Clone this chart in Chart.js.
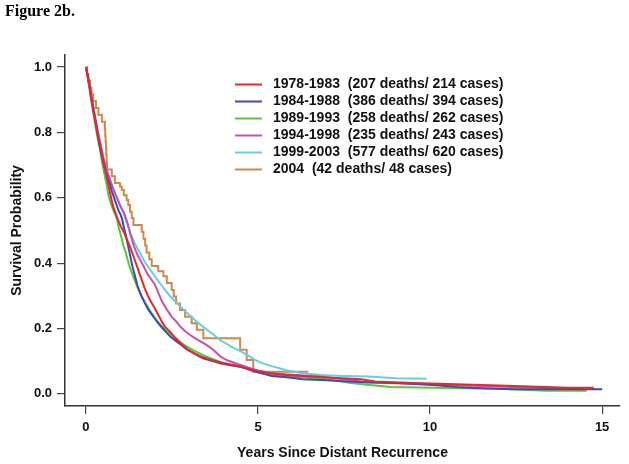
<!DOCTYPE html>
<html>
<head>
<meta charset="utf-8">
<script src="https://cdn.jsdelivr.net/npm/chart.js@4.4.0/dist/chart.umd.min.js"></script>
<style>
  html, body { margin: 0; padding: 0; background: #fff; }
  #wrap { width: 629px; height: 464px; }
</style>
</head>
<body>
<div id="wrap"><canvas id="chart" width="629" height="464"></canvas></div>
<script>
// Kaplan-Meier curves, [years, survival] pairs
const periods = ['1978-1983', '1984-1988', '1989-1993', '1994-1998', '1999-2003', '2004'];
const deaths = [207, 386, 258, 235, 577, 42];
const cases = [214, 394, 262, 243, 620, 48];
const colors = ['#e8262b', '#3a4db5', '#5cc43c', '#c850b0', '#62cfe2', '#cf8848'];

const km7883 = [[0,1],[0.05,0.97],[0.1,0.94],[0.15,0.905],[0.2,0.875],[0.25,0.845],[0.3,0.815],[0.35,0.79],[0.4,0.76],[0.45,0.735],[0.5,0.71],[0.55,0.69],[0.6,0.665],[0.65,0.64],[0.7,0.615],[0.75,0.59],[0.8,0.57],[0.9,0.54],[1.0,0.515],[1.1,0.495],[1.2,0.47],[1.3,0.445],[1.4,0.415],[1.5,0.385],[1.6,0.355],[1.7,0.325],[1.8,0.3],[1.9,0.28],[2.0,0.262],[2.1,0.242],[2.2,0.222],[2.3,0.205],[2.45,0.19],[2.6,0.17],[2.8,0.15],[3.0,0.133],[3.2,0.122],[3.4,0.112],[3.7,0.102],[4.0,0.094],[4.4,0.086],[4.8,0.075],[5.0,0.07],[5.35,0.063],[5.8,0.058],[6.3,0.055],[7.0,0.05],[8.0,0.045],[8.4,0.038],[9.5,0.033],[10.5,0.03],[12.0,0.026],[14.0,0.019],[14.75,0.019]];
const km8488 = [[0,1],[0.05,0.975],[0.1,0.945],[0.15,0.91],[0.2,0.88],[0.25,0.85],[0.3,0.82],[0.35,0.79],[0.4,0.76],[0.45,0.735],[0.5,0.71],[0.55,0.69],[0.6,0.67],[0.65,0.655],[0.7,0.64],[0.75,0.62],[0.8,0.605],[0.85,0.59],[0.9,0.575],[0.95,0.56],[1.0,0.55],[1.05,0.535],[1.1,0.51],[1.15,0.49],[1.2,0.465],[1.25,0.44],[1.3,0.415],[1.35,0.39],[1.4,0.37],[1.45,0.35],[1.5,0.33],[1.6,0.302],[1.7,0.28],[1.8,0.26],[1.9,0.245],[2.0,0.23],[2.1,0.216],[2.2,0.204],[2.3,0.192],[2.45,0.176],[2.6,0.163],[2.75,0.151],[2.93,0.136],[3.1,0.126],[3.25,0.117],[3.4,0.109],[3.6,0.103],[3.9,0.094],[4.2,0.088],[4.5,0.083],[4.8,0.072],[5.0,0.066],[5.4,0.055],[5.9,0.05],[6.3,0.045],[7.0,0.042],[7.6,0.038],[8.2,0.035],[9.1,0.033],[10.0,0.028],[10.9,0.02],[11.3,0.018],[12.4,0.014],[15.0,0.014]];
const km8993 = [[0,1],[0.05,0.97],[0.1,0.935],[0.15,0.9],[0.2,0.865],[0.25,0.835],[0.3,0.805],[0.35,0.775],[0.4,0.75],[0.45,0.72],[0.5,0.69],[0.55,0.665],[0.6,0.64],[0.65,0.61],[0.7,0.59],[0.75,0.575],[0.8,0.56],[0.85,0.55],[0.9,0.535],[0.95,0.51],[1.0,0.49],[1.05,0.47],[1.1,0.45],[1.15,0.435],[1.2,0.415],[1.25,0.395],[1.3,0.38],[1.35,0.365],[1.4,0.352],[1.5,0.325],[1.6,0.302],[1.7,0.283],[1.8,0.265],[1.9,0.248],[2.0,0.233],[2.1,0.22],[2.2,0.208],[2.3,0.197],[2.45,0.185],[2.6,0.172],[2.75,0.158],[2.93,0.145],[3.1,0.135],[3.3,0.124],[3.5,0.114],[3.7,0.106],[3.9,0.098],[4.2,0.089],[4.5,0.082],[4.7,0.077],[4.9,0.068],[5.3,0.06],[5.8,0.054],[6.3,0.05],[6.8,0.047],[7.3,0.04],[7.7,0.033],[8.4,0.026],[8.85,0.021],[10.5,0.018],[12.0,0.016],[13.4,0.01],[14.55,0.01]];
const km9498 = [[0,1],[0.05,0.975],[0.1,0.945],[0.15,0.915],[0.2,0.885],[0.25,0.855],[0.3,0.825],[0.35,0.8],[0.4,0.775],[0.45,0.75],[0.5,0.725],[0.55,0.705],[0.6,0.685],[0.65,0.67],[0.7,0.655],[0.75,0.64],[0.8,0.625],[0.9,0.6],[1.0,0.575],[1.1,0.555],[1.2,0.525],[1.3,0.485],[1.4,0.45],[1.5,0.425],[1.6,0.405],[1.7,0.385],[1.8,0.365],[1.9,0.35],[2.0,0.335],[2.1,0.31],[2.2,0.285],[2.35,0.258],[2.5,0.235],[2.6,0.224],[2.75,0.205],[2.9,0.19],[3.1,0.175],[3.3,0.162],[3.5,0.15],[3.7,0.135],[3.9,0.115],[4.1,0.103],[4.45,0.09],[4.8,0.078],[5.0,0.072],[5.35,0.064],[5.8,0.06],[6.3,0.056],[6.8,0.053],[7.5,0.045],[8.0,0.038],[8.5,0.035],[9.5,0.03],[10.5,0.027],[12.0,0.023],[12.5,0.02],[13.5,0.018],[14.8,0.015]];
const km9903 = [[0,1],[0.05,0.97],[0.1,0.945],[0.15,0.915],[0.2,0.885],[0.25,0.855],[0.3,0.83],[0.35,0.8],[0.4,0.775],[0.45,0.75],[0.5,0.725],[0.55,0.705],[0.6,0.685],[0.7,0.655],[0.8,0.625],[0.9,0.6],[1.0,0.575],[1.1,0.55],[1.2,0.52],[1.3,0.49],[1.4,0.465],[1.5,0.445],[1.6,0.425],[1.7,0.405],[1.8,0.39],[1.9,0.375],[2.0,0.36],[2.1,0.345],[2.2,0.332],[2.3,0.318],[2.45,0.298],[2.6,0.283],[2.75,0.267],[2.93,0.248],[3.1,0.232],[3.25,0.218],[3.4,0.206],[3.6,0.19],[3.75,0.178],[3.9,0.165],[4.1,0.152],[4.3,0.14],[4.5,0.13],[4.7,0.118],[4.9,0.105],[5.1,0.095],[5.4,0.085],[5.8,0.073],[6.2,0.065],[6.8,0.058],[7.5,0.055],[8.2,0.053],[9.0,0.048],[9.9,0.046]];
const km2004 = [[0,1],[0.03,0.979],[0.07,0.958],[0.12,0.937],[0.16,0.917],[0.21,0.896],[0.29,0.875],[0.36,0.854],[0.46,0.833],[0.55,0.812],[0.56,0.79],[0.57,0.77],[0.58,0.75],[0.59,0.73],[0.6,0.708],[0.61,0.687],[0.75,0.666],[0.84,0.645],[0.99,0.635],[1.04,0.624],[1.1,0.608],[1.18,0.593],[1.23,0.578],[1.28,0.557],[1.33,0.538],[1.38,0.517],[1.62,0.496],[1.67,0.475],[1.72,0.454],[1.76,0.433],[1.84,0.412],[1.91,0.391],[2.1,0.375],[2.25,0.36],[2.35,0.339],[2.49,0.318],[2.55,0.298],[2.62,0.277],[2.73,0.257],[2.88,0.236],[3.07,0.216],[3.22,0.196],[3.41,0.17],[4.48,0.135],[4.67,0.104],[4.86,0.068],[6.46,0.068]];

const curves = [km7883, km8488, km8993, km9498, km9903, km2004];
// the small cohort shows visible steps, the large ones look nearly smooth
const drawSteps = [false, false, false, false, false, true];
const xTicks = [0, 5, 10, 15];
const yTicks = [0, 0.2, 0.4, 0.6, 0.8, 1.0];

const sans = '"Liberation Sans", Arial, sans-serif';

// legend drawn inside the plot area, like the original figure
const insideLegend = {
  id: 'insideLegend',
  afterDatasetsDraw(chart) {
    const { ctx, chartArea } = chart;
    const x0 = chartArea.left + 170;
    const y0 = chartArea.top + 29.5;
    ctx.save();
    ctx.font = 'bold 14px ' + sans;
    ctx.textBaseline = 'middle';
    ctx.textAlign = 'left';
    chart.data.datasets.forEach((ds, i) => {
      const y = y0 + i * 17;
      ctx.strokeStyle = ds.borderColor;
      ctx.lineWidth = 2;
      ctx.beginPath();
      ctx.moveTo(x0, y);
      ctx.lineTo(x0 + 27, y);
      ctx.stroke();
      ctx.fillStyle = '#111';
      ctx.fillText(ds.label, x0 + 38, y);
    });
    ctx.restore();
  }
};

const datasets = curves.map((pts, i) => ({
  label: periods[i] + '  (' + deaths[i] + ' deaths/ ' + cases[i] + ' cases)',
  data: pts.map(p => ({ x: p[0], y: p[1] })),
  borderColor: colors[i],
  borderWidth: 2,
  stepped: drawSteps[i],
  tension: 0,
  pointRadius: 0,
  fill: false
}));

new Chart(document.getElementById('chart'), {
  type: 'line',
  data: { datasets },
  plugins: [insideLegend],
  options: {
    responsive: false,
    animation: false,
    devicePixelRatio: 1,
    layout: { padding: { left: 5, right: 9, top: 0, bottom: 0 } },
    plugins: {
      legend: { display: false },
      tooltip: { enabled: false },
      title: {
        display: true,
        text: 'Figure 2b.',
        align: 'start',
        color: '#000',
        font: { family: '"Liberation Serif", "Times New Roman", serif', size: 16, weight: 'bold' },
        padding: { top: 2, bottom: 33.8 }
      }
    },
    scales: {
      x: {
        type: 'linear',
        min: -0.61,
        max: 15.52,
        afterBuildTicks: s => { s.ticks = xTicks.map(v => ({ value: v })); },
        afterFit: s => { s.height = 58; },
        ticks: {
          color: '#111',
          padding: 6,
          font: { family: sans, size: 13, weight: 'bold' },
          callback: v => String(v)
        },
        grid: { drawOnChartArea: false, drawTicks: true, tickLength: 8, color: '#444', lineWidth: 1.2 },
        border: { display: true, color: '#333', width: 1.5 },
        title: {
          display: true,
          text: 'Years Since Distant Recurrence',
          color: '#111',
          font: { family: sans, size: 14, weight: 'bold' },
          padding: { top: 0, bottom: 2 }
        }
      },
      y: {
        min: -0.037,
        max: 1.037,
        afterBuildTicks: s => { s.ticks = yTicks.map(v => ({ value: v })); },
        afterFit: s => { s.width = 60; },
        ticks: {
          color: '#111',
          padding: 5,
          font: { family: sans, size: 13, weight: 'bold' },
          callback: v => v.toFixed(1)
        },
        grid: { drawOnChartArea: false, drawTicks: true, tickLength: 8, color: '#444', lineWidth: 1.2 },
        border: { display: true, color: '#333', width: 1.5 },
        title: {
          display: true,
          text: 'Survival Probability',
          color: '#111',
          font: { family: sans, size: 14, weight: 'bold' },
          padding: { top: 4, bottom: 0 }
        }
      }
    }
  }
});
</script>
</body>
</html>
